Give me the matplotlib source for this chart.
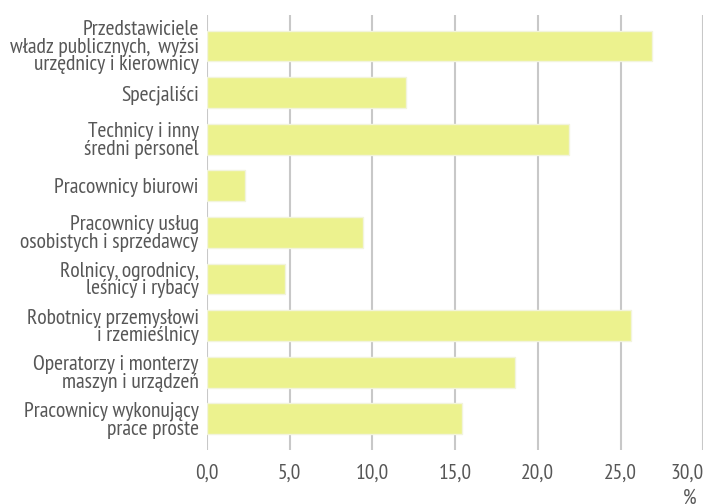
import matplotlib
matplotlib.use("Agg")
import matplotlib.pyplot as plt

plt.rcParams['font.family'] = ['PT Sans Narrow', 'DejaVu Sans']

categories = [
    "Przedstawiciele\nwładz publicznych,  wyżsi\nurzędnicy i kierownicy",
    "Specjaliści",
    "Technicy i inny\nśredni personel",
    "Pracownicy biurowi",
    "Pracownicy usług\nosobistych i sprzedawcy",
    "Rolnicy, ogrodnicy,\nleśnicy i rybacy",
    "Robotnicy przemysłowi\ni rzemieślnicy",
    "Operatorzy i monterzy\nmaszyn i urządzeń",
    "Pracownicy wykonujący\nprace proste",
]
values = [26.9, 12.0, 21.9, 2.3, 9.4, 4.7, 25.6, 18.6, 15.4]
xticks = [0, 5, 10, 15, 20, 25, 30]
xticklabels = ["0,0", "5,0", "10,0", "15,0", "20,0", "25,0", "30,0"]

fig = plt.figure(figsize=(7.06, 5.04), dpi=100)
ax = fig.add_axes([207/706, 1-450/504, (703.3-207)/706, (450-15)/504])

txt = "#575757"
ax.barh(range(len(values)), values, height=0.66, color="#ecf28e",
        edgecolor="#f2f4dc", linewidth=1, zorder=3)
ax.set_xlim(0, 30)
ax.set_ylim(8.67, -0.665)
ax.set_xticks(xticks)
ax.set_xticklabels(xticklabels)
ax.set_yticks(range(len(categories)))
ax.set_yticklabels(categories, linespacing=0.9)
ax.grid(axis='x', color="#c8c8c8", linewidth=1.5, zorder=0)
ax.grid(axis='y', visible=False)
for s in ax.spines.values():
    s.set_visible(False)
ax.tick_params(axis='y', length=0, labelsize=15.6, colors=txt, pad=6)
ax.tick_params(axis='x', length=0, labelsize=15.5, colors=txt, pad=10)
for lbl in ax.get_xticklabels()[-1:]:
    lbl.set_horizontalalignment('right')
ax.text(29.2, -0.09, "%", transform=ax.get_xaxis_transform(), ha='center', va='top',
        fontsize=15.5, color=txt)

fig.savefig("out.png", dpi=100)
